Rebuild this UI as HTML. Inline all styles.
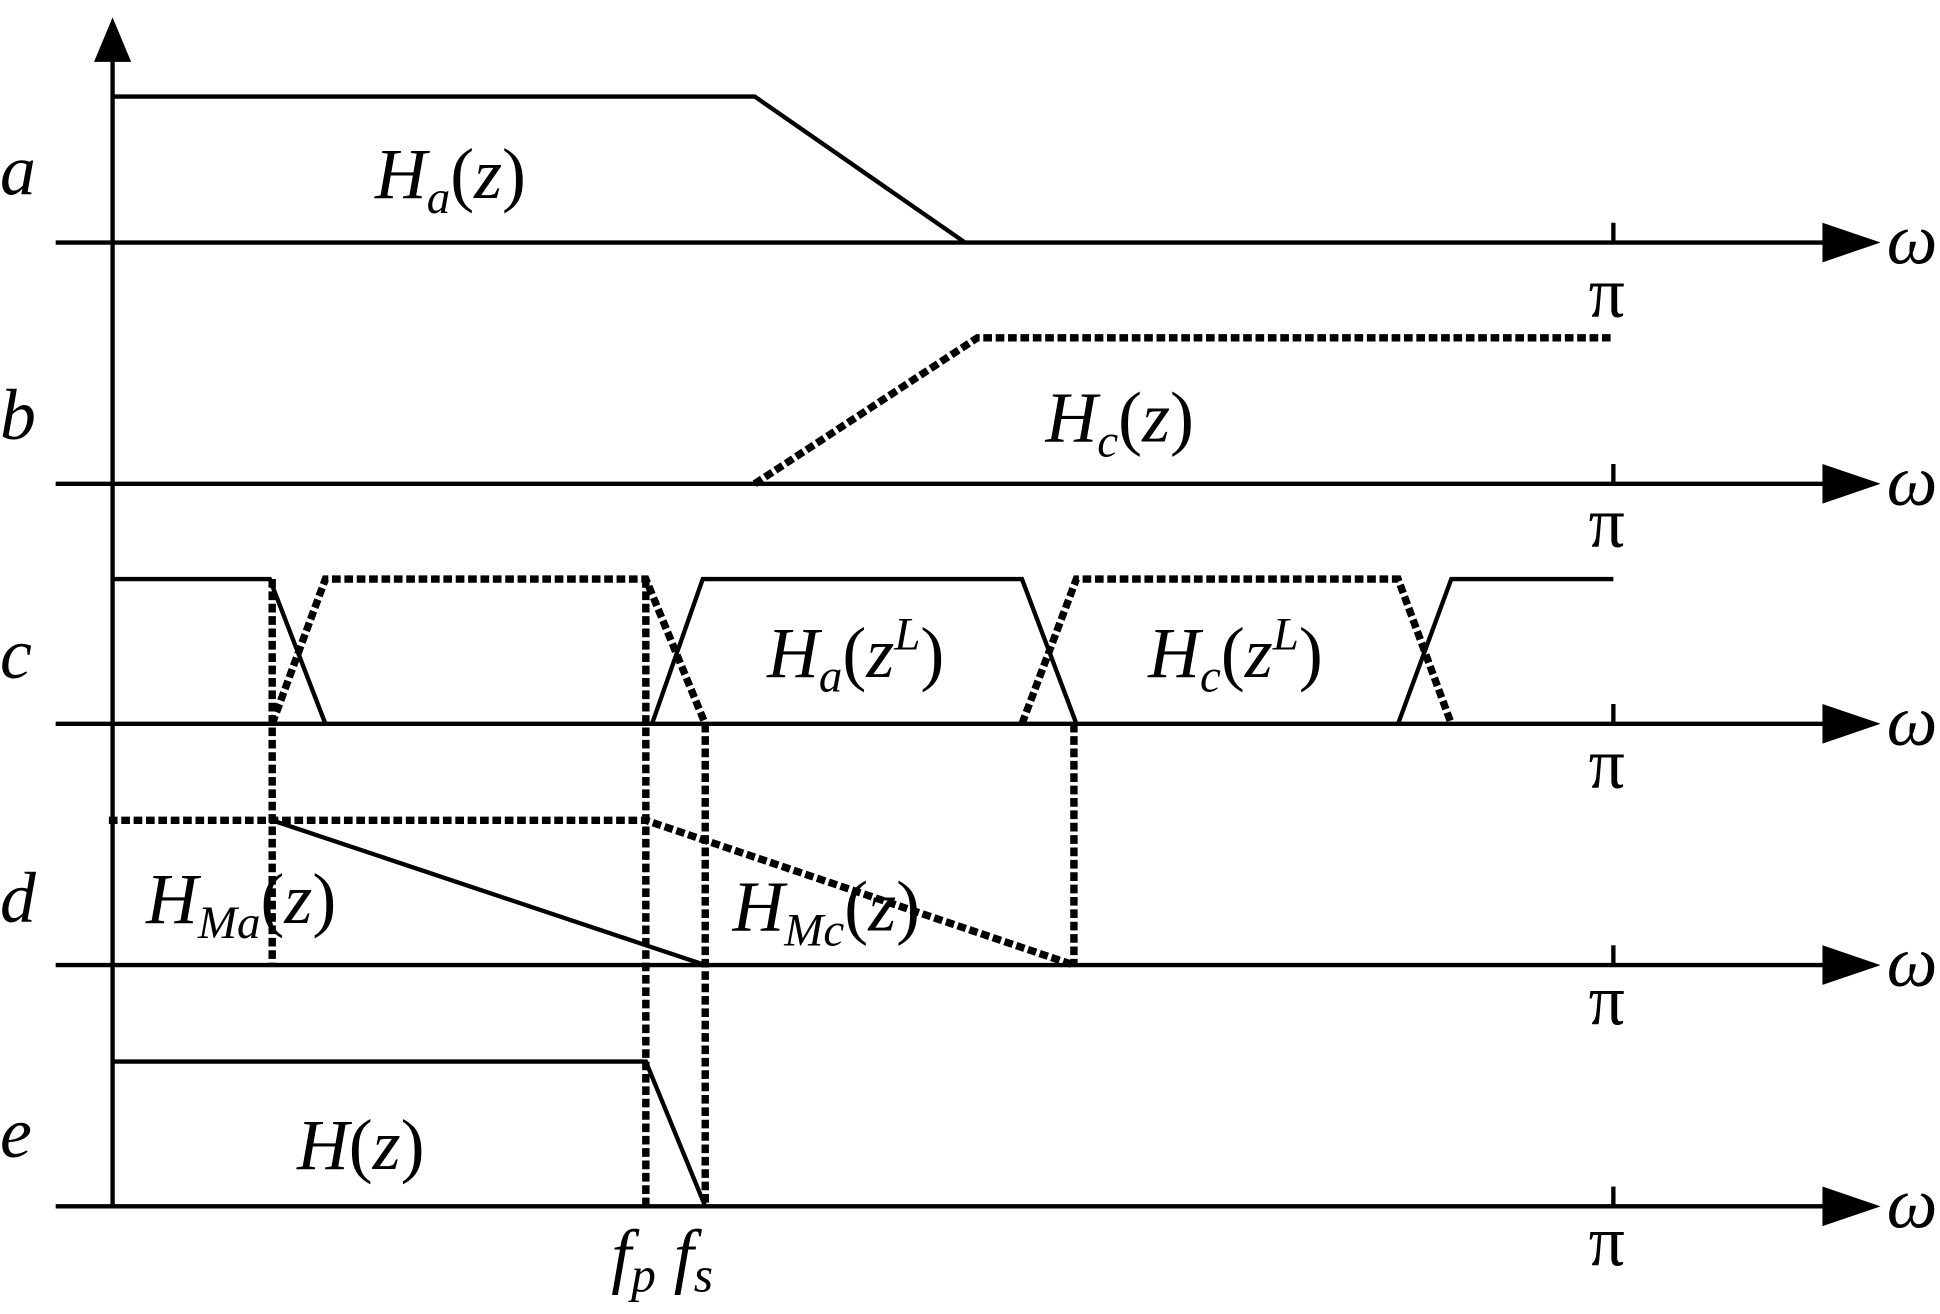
<!DOCTYPE html>
<html><head><meta charset="utf-8"><style>
html,body{margin:0;padding:0;background:#fff;}
svg{display:block;}
text{font-family:"Liberation Serif",serif;fill:#000;}
.it{font-style:italic;}
</style></head><body>
<svg width="1940" height="1314" viewBox="0 0 1568 1062" xmlns="http://www.w3.org/2000/svg">
<g stroke="#000" stroke-width="3.5" fill="none">
<line x1="91" y1="975" x2="91" y2="45"/>
<line x1="45" y1="196" x2="1480" y2="196"/>
<line x1="45" y1="391" x2="1480" y2="391"/>
<line x1="45" y1="585" x2="1480" y2="585"/>
<line x1="45" y1="780" x2="1480" y2="780"/>
<line x1="45" y1="975" x2="1480" y2="975"/>
<line x1="1304" y1="180" x2="1304" y2="196"/>
<line x1="1304" y1="375" x2="1304" y2="391"/>
<line x1="1304" y1="569" x2="1304" y2="585"/>
<line x1="1304" y1="764" x2="1304" y2="780"/>
<line x1="1304" y1="959" x2="1304" y2="975"/>
<polyline points="91,78 610,78 780,196"/>
<polyline points="91,468 218,468 263,585"/>
<polyline points="527,585 568,468 826,468 870,585"/>
<polyline points="1130,585 1173,468 1304,468"/>
<polyline points="220,663 570,780"/>
<polyline points="91,858 522,858 570,975"/>
</g>
<g fill="#000">
<polygon points="76,50 106,50 91,14"/>
<polygon points="1473,180 1473,212 1520,196"/>
<polygon points="1473,375 1473,407 1520,391"/>
<polygon points="1473,569 1473,601 1520,585"/>
<polygon points="1473,764 1473,796 1520,780"/>
<polygon points="1473,959 1473,991 1520,975"/>
</g>
<g stroke="#000" stroke-width="6" fill="none" stroke-dasharray="7 3">
<polyline points="610,391 790,273 1304,273"/>
<polyline points="220,585 263,468 522,468 570,585"/>
<polyline points="826,585 870,468 1130,468 1173,585"/>
<line x1="220" y1="468" x2="220" y2="780"/>
<line x1="522" y1="468" x2="522" y2="975"/>
<line x1="570" y1="585" x2="570" y2="975"/>
<line x1="868" y1="585" x2="868" y2="780"/>
<polyline points="88,663 522,663 868,780"/>
</g>
<g font-size="58">
<text class="it" x="0" y="157">a</text>
<text class="it" x="0" y="355">b</text>
<text class="it" x="0" y="548">c</text>
<text class="it" x="0" y="745">d</text>
<text class="it" x="0" y="935">e</text>
<text class="it" x="1525" y="213">ω</text>
<text class="it" x="1525" y="408">ω</text>
<text class="it" x="1525" y="602">ω</text>
<text class="it" x="1525" y="797">ω</text>
<text class="it" x="1525" y="992">ω</text>
<text x="1284" y="256">π</text>
<text x="1284" y="442">π</text>
<text x="1284" y="637">π</text>
<text x="1284" y="828">π</text>
<text x="1284" y="1023">π</text>
<text x="303" y="160"><tspan class="it">H</tspan><tspan class="it" font-size="38" dy="12">a</tspan><tspan dy="-12">(</tspan><tspan class="it">z</tspan>)</text>
<text x="845" y="357"><tspan class="it">H</tspan><tspan class="it" font-size="38" dy="12">c</tspan><tspan dy="-12">(</tspan><tspan class="it">z</tspan>)</text>
<text x="620" y="547"><tspan class="it">H</tspan><tspan class="it" font-size="38" dy="12">a</tspan><tspan dy="-12">(</tspan><tspan class="it">z</tspan><tspan class="it" font-size="38" dy="-22">L</tspan><tspan dy="22">)</tspan></text>
<text x="928" y="547"><tspan class="it">H</tspan><tspan class="it" font-size="38" dy="12">c</tspan><tspan dy="-12">(</tspan><tspan class="it">z</tspan><tspan class="it" font-size="38" dy="-22">L</tspan><tspan dy="22">)</tspan></text>
<text x="118" y="746"><tspan class="it">H</tspan><tspan class="it" font-size="38" dy="12">Ma</tspan><tspan dy="-12">(</tspan><tspan class="it">z</tspan>)</text>
<text x="592" y="752"><tspan class="it">H</tspan><tspan class="it" font-size="38" dy="12">Mc</tspan><tspan dy="-12">(</tspan><tspan class="it">z</tspan>)</text>
<text x="240" y="945"><tspan class="it">H</tspan>(<tspan class="it">z</tspan>)</text>
<text x="494" y="1034"><tspan class="it">f</tspan><tspan class="it" font-size="40" dy="10">p</tspan><tspan class="it" dy="-10"> f</tspan><tspan class="it" font-size="40" dy="10">s</tspan></text>
</g>
</svg>
</body></html>
